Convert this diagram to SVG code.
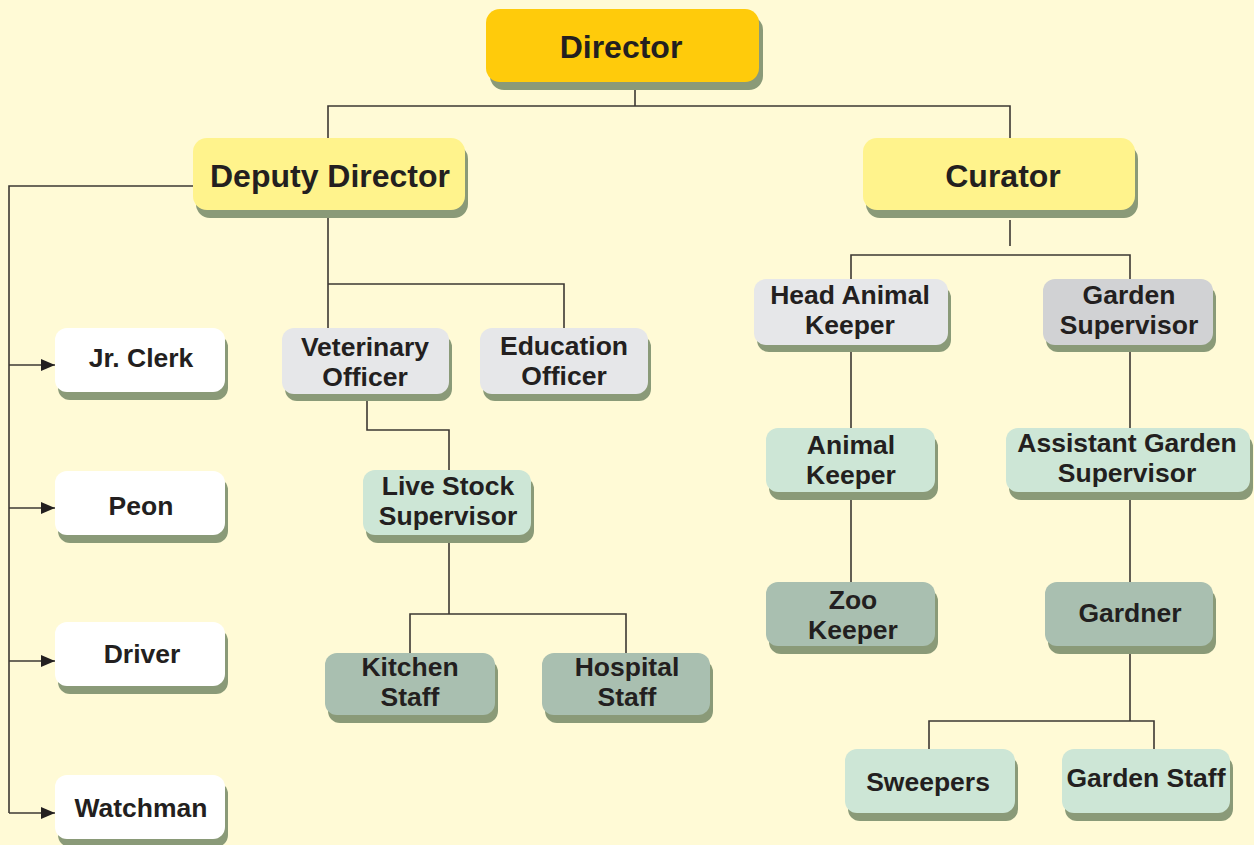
<svg xmlns="http://www.w3.org/2000/svg" width="1254" height="845" viewBox="0 0 1254 845">
<defs>
<style>
.sh{fill:#8a9a78}
.t{font-family:"Liberation Sans",Arial,sans-serif;font-weight:bold;fill:#231f20;text-anchor:middle}
.big{font-size:32px}
.sm{font-size:26.5px}
.c{fill:none;stroke:#3d3833;stroke-width:1.6}
.dir{fill:#ffcb0b}
.dep{fill:#fff38c}
.gr{fill:#e6e7e9}
.gr2{fill:#d1d2d4}
.mint{fill:#cde6d6}
.sage{fill:#a9bfb0}
.wh{fill:#ffffff}
</style>
<marker id="ar" viewBox="0 0 14 12" refX="14" refY="6" markerWidth="14" markerHeight="12" markerUnits="userSpaceOnUse" orient="auto">
<path d="M0,0 L14,6 L0,12 Z" fill="#231f20"/>
</marker>
</defs>
<rect width="1254" height="845" fill="#fffad6"/>
<g id="connectors">
<path class="c" d="M635,90 V106 M328,138 V106 H1010 V138"/>
<path class="c" d="M193,186 H9 V813"/>
<path class="c" d="M9,365 H55" marker-end="url(#ar)"/>
<path class="c" d="M9,508 H55" marker-end="url(#ar)"/>
<path class="c" d="M9,661 H55" marker-end="url(#ar)"/>
<path class="c" d="M9,813 H55" marker-end="url(#ar)"/>
<path class="c" d="M328,218 V328 M328,284 H564 V328"/>
<path class="c" d="M367,400 V430 H449 V470"/>
<path class="c" d="M449,543 V614 M410,653 V614 H626 V653"/>
<path class="c" d="M1010,220 V246 M851,279 V255 H1130 V279"/>
<path class="c" d="M851,352 V428 M851,500 V582"/>
<path class="c" d="M1130,352 V428 M1130,500 V582"/>
<path class="c" d="M1130,654 V721 M929,749 V721 H1154 V749"/>
</g>
<g id="director"><rect class="sh" x="490" y="16" width="273" height="74" rx="14"/><rect class="dir" x="486" y="9" width="273" height="73" rx="14"/><text class="t big" x="621" y="58">Director</text></g>
<g id="deputy-director"><rect class="sh" x="196" y="145" width="272" height="73" rx="14"/><rect class="dep" x="193" y="138" width="272" height="72" rx="14"/><text class="t big" x="330" y="187">Deputy Director</text></g>
<g id="curator"><rect class="sh" x="866" y="145" width="272" height="73" rx="14"/><rect class="dep" x="863" y="138" width="272" height="72" rx="14"/><text class="t big" x="1003" y="187">Curator</text></g>
<g id="jr-clerk"><rect class="sh" x="58" y="335" width="170" height="65" rx="12"/><rect class="wh" x="55" y="328" width="170" height="64" rx="12"/><text class="t sm" x="141" y="367">Jr. Clerk</text></g>
<g id="peon"><rect class="sh" x="58" y="478" width="170" height="65" rx="12"/><rect class="wh" x="55" y="471" width="170" height="64" rx="12"/><text class="t sm" x="141" y="515">Peon</text></g>
<g id="driver"><rect class="sh" x="58" y="629" width="170" height="65" rx="12"/><rect class="wh" x="55" y="622" width="170" height="64" rx="12"/><text class="t sm" x="142" y="663">Driver</text></g>
<g id="watchman"><rect class="sh" x="58" y="782" width="170" height="65" rx="12"/><rect class="wh" x="55" y="775" width="170" height="64" rx="12"/><text class="t sm" x="141" y="817">Watchman</text></g>
<g id="veterinary-officer"><rect class="sh" x="285" y="335" width="167" height="66" rx="12"/><rect class="gr" x="282" y="328" width="167" height="66" rx="12"/><text class="t sm" x="365" y="356">Veterinary</text><text class="t sm" x="365" y="386">Officer</text></g>
<g id="education-officer"><rect class="sh" x="483" y="335" width="168" height="66" rx="12"/><rect class="gr" x="480" y="328" width="168" height="66" rx="12"/><text class="t sm" x="564" y="355">Education</text><text class="t sm" x="564" y="385">Officer</text></g>
<g id="live-stock-supervisor"><rect class="sh" x="366" y="477" width="168" height="66" rx="12"/><rect class="mint" x="363" y="470" width="168" height="65" rx="12"/><text class="t sm" x="448" y="495">Live Stock</text><text class="t sm" x="448" y="525">Supervisor</text></g>
<g id="kitchen-staff"><rect class="sh" x="328" y="660" width="170" height="63" rx="12"/><rect class="sage" x="325" y="653" width="170" height="62" rx="12"/><text class="t sm" x="410" y="676">Kitchen</text><text class="t sm" x="410" y="706">Staff</text></g>
<g id="hospital-staff"><rect class="sh" x="545" y="660" width="168" height="63" rx="12"/><rect class="sage" x="542" y="653" width="168" height="62" rx="12"/><text class="t sm" x="627" y="676">Hospital</text><text class="t sm" x="627" y="706">Staff</text></g>
<g id="head-animal-keeper"><rect class="sh" x="757" y="286" width="194" height="66" rx="12"/><rect class="gr" x="754" y="279" width="194" height="66" rx="12"/><text class="t sm" x="850" y="304">Head Animal</text><text class="t sm" x="850" y="334">Keeper</text></g>
<g id="garden-supervisor"><rect class="sh" x="1046" y="286" width="170" height="66" rx="12"/><rect class="gr2" x="1043" y="279" width="170" height="66" rx="12"/><text class="t sm" x="1129" y="304">Garden</text><text class="t sm" x="1129" y="334">Supervisor</text></g>
<g id="animal-keeper"><rect class="sh" x="769" y="435" width="169" height="65" rx="12"/><rect class="mint" x="766" y="428" width="169" height="64" rx="12"/><text class="t sm" x="851" y="454">Animal</text><text class="t sm" x="851" y="484">Keeper</text></g>
<g id="assistant-garden-supervisor"><rect class="sh" x="1009" y="435" width="244" height="65" rx="12"/><rect class="mint" x="1006" y="428" width="244" height="64" rx="12"/><text class="t sm" x="1127" y="452">Assistant Garden</text><text class="t sm" x="1127" y="482">Supervisor</text></g>
<g id="zoo-keeper"><rect class="sh" x="769" y="589" width="169" height="65" rx="12"/><rect class="sage" x="766" y="582" width="169" height="64" rx="12"/><text class="t sm" x="853" y="609">Zoo</text><text class="t sm" x="853" y="639">Keeper</text></g>
<g id="gardner"><rect class="sh" x="1048" y="589" width="168" height="65" rx="12"/><rect class="sage" x="1045" y="582" width="168" height="64" rx="12"/><text class="t sm" x="1130" y="622">Gardner</text></g>
<g id="sweepers"><rect class="sh" x="848" y="756" width="170" height="65" rx="12"/><rect class="mint" x="845" y="749" width="170" height="64" rx="12"/><text class="t sm" x="928" y="791">Sweepers</text></g>
<g id="garden-staff"><rect class="sh" x="1065" y="756" width="168" height="65" rx="12"/><rect class="mint" x="1062" y="749" width="168" height="64" rx="12"/><text class="t sm" x="1146" y="787">Garden Staff</text></g>
</svg>
